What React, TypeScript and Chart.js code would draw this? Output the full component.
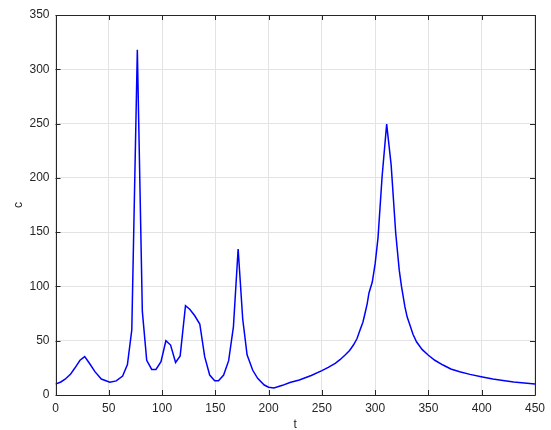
import React, { useEffect, useRef } from "react";
import { Chart, registerables } from "chart.js";

Chart.register(...registerables);

const tValues: number[] = [
  0, 5, 9, 14, 18, 23, 27.4, 32, 37, 43, 51, 57, 63, 67.5, 71.6, 76.8, 81.5,
  85.6, 90.3, 94.3, 99, 103.6, 108, 112.7, 117, 122, 126, 130.7, 135.4, 140,
  144.7, 149.4, 153, 157.8, 162.5, 167, 171.4, 175.7, 179.8, 185, 189.7, 195.9,
  200, 205, 213, 220, 228.8, 240, 250, 256, 262.5, 267, 271.8, 276, 279.6, 283,
  285.8, 288.5, 290.5, 292.5, 294.2, 297.3, 300, 302.7, 306.5, 310.8, 315, 319.3,
  322.6, 324.7, 327.9, 330, 332.6, 335.5, 338.8, 344, 349.7, 356, 363.7, 371,
  379.3, 389, 399.5, 410.4, 420, 430, 440, 450,
];
const cValues: number[] = [
  10, 12, 14.5, 19, 24.6, 32, 35.3, 29, 21.5, 14.7, 11.7, 13, 17.5, 28, 60, 318,
  77, 32, 23.6, 23.6, 30.7, 50, 46, 30, 36, 82.3, 79, 73, 65.4, 35.3, 18.4, 13.2,
  13.2, 18.4, 31.6, 63, 134.5, 70, 37, 23, 15.4, 9.2, 7.2, 6.4, 8.9, 11.5, 13.8,
  18, 22.4, 25.5, 29.2, 32.5, 36.8, 41, 46, 52, 59.9, 67, 75.3, 84, 94, 104,
  121, 145, 201, 249.5, 212, 149, 115, 100, 81.3, 72, 64.5, 56, 49, 42, 36.8,
  32, 27.6, 24, 21.5, 19, 16.9, 14.7, 13.3, 12, 11, 10.1,
];
const xTicks: number[] = [0, 50, 100, 150, 200, 250, 300, 350, 400, 450];
const yTicks: number[] = [0, 50, 100, 150, 200, 250, 300, 350];
const xLabel = "t";
const yLabel = "c";

const AXIS = "#262626";
const FONT = "'Liberation Sans', Arial, Helvetica, sans-serif";

const boxPlugin = {
  id: "matlabBox",
  afterDatasetsDraw(chart: any) {
    const { ctx, chartArea } = chart;
    const { left, right, top, bottom } = chartArea;
    const xs = chart.scales.x;
    const ys = chart.scales.y;
    ctx.save();
    ctx.strokeStyle = AXIS;
    ctx.lineWidth = 1;
    const tl = 5;
    ctx.beginPath();
    xTicks.forEach((v) => {
      const px = Math.round(xs.getPixelForValue(v)) + 0.5;
      ctx.moveTo(px, bottom);
      ctx.lineTo(px, bottom - tl);
      ctx.moveTo(px, top);
      ctx.lineTo(px, top + tl);
    });
    yTicks.forEach((v) => {
      const py = Math.round(ys.getPixelForValue(v)) + 0.5;
      ctx.moveTo(left, py);
      ctx.lineTo(left + tl, py);
      ctx.moveTo(right, py);
      ctx.lineTo(right - tl, py);
    });
    ctx.stroke();
    ctx.beginPath();
    ctx.rect(Math.round(left) + 0.5, Math.round(top) + 0.5, Math.round(right - left), Math.round(bottom - top));
    ctx.stroke();
    ctx.fillStyle = AXIS;
    ctx.font = `12px ${FONT}`;
    ctx.textAlign = "center";
    ctx.textBaseline = "middle";
    ctx.fillText(xLabel, (left + right) / 2, 425);
    ctx.translate(19, (top + bottom) / 2);
    ctx.rotate(-Math.PI / 2);
    ctx.fillText(yLabel, 0, 0);
    ctx.restore();
  },
};

export default function App() {
  const ref = useRef<HTMLCanvasElement | null>(null);
  useEffect(() => {
    if (!ref.current) return;
    const data = tValues.map((t, i) => ({ x: t, y: cValues[i] }));
    const chart = new Chart(ref.current, {
      type: "line",
      data: {
        datasets: [
          {
            data,
            borderColor: "#0000ff",
            borderWidth: 1.5,
            pointRadius: 0,
            tension: 0,
            fill: false,
          },
        ],
      },
      options: {
        responsive: false,
        animation: false,
        events: [],
        layout: { padding: { top: 15, right: 14, left: 0, bottom: 0 } },
        plugins: { legend: { display: false }, tooltip: { enabled: false } },
        scales: {
          x: {
            type: "linear",
            min: 0,
            max: 450,
            afterBuildTicks: (s: any) => {
              s.ticks = xTicks.map((v) => ({ value: v }));
            },
            afterFit: (s: any) => {
              s.height = 35;
            },
            ticks: {
              color: AXIS,
              font: { family: FONT, size: 12 },
              padding: 6,
              maxRotation: 0,
              autoSkip: false,
            },
            grid: { color: "#e3e3e3", drawTicks: false, lineWidth: 1 },
            border: { display: false },
          },
          y: {
            type: "linear",
            min: 0,
            max: 350,
            afterBuildTicks: (s: any) => {
              s.ticks = yTicks.map((v) => ({ value: v }));
            },
            afterFit: (s: any) => {
              s.width = 55.5;
            },
            ticks: {
              color: AXIS,
              font: { family: FONT, size: 12 },
              padding: 6,
              autoSkip: false,
            },
            grid: { color: "#e3e3e3", drawTicks: false, lineWidth: 1 },
            border: { display: false },
          },
        },
      },
      plugins: [boxPlugin],
    });
    return () => chart.destroy();
  }, []);
  return (
    <div style={{ position: "absolute", left: 0, top: 0, width: 551, height: 430, background: "#fff" }}>
      <canvas ref={ref} width={551} height={430} style={{ display: "block" }} />
    </div>
  );
}
